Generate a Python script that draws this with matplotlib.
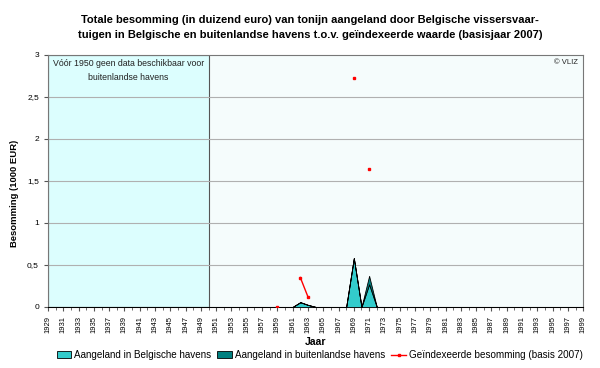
import numpy as np
import matplotlib.pyplot as plt
from matplotlib.ticker import FuncFormatter, MultipleLocator

plt.rcParams['font.family'] = ['Liberation Sans', 'DejaVu Sans']

# data (1000 EUR)
years = list(range(1929, 2000))
belg_years = [1961, 1962, 1963, 1964, 1968, 1969, 1970, 1971, 1972]
belg_vals = [0.0, 0.056, 0.024, 0.0, 0.0, 0.58, 0.0, 0.27, 0.0]
buit_years = [1970, 1971, 1972]
buit_vals = [0.0, 0.10, 0.0]
index_years = [1959, 1962, 1963, 1969, 1971]
index_vals = [0.0, 0.35, 0.12, 2.72, 1.64]

belg = np.zeros(len(years))
buit = np.zeros(len(years))
index = np.full(len(years), np.nan)
for y, v in zip(belg_years, belg_vals):
    belg[years.index(y)] = v
for y, v in zip(buit_years, buit_vals):
    buit[years.index(y)] = v
for y, v in zip(index_years, index_vals):
    index[years.index(y)] = v

fig = plt.figure(figsize=(6, 3.68), dpi=100)
ax = fig.add_axes([0.08, 0.166, 0.892, 0.685])

ax.set_facecolor('#f5fcfc')
ax.axvspan(1929, 1950, facecolor='#dcfefe', edgecolor='#555555', lw=0.8, zorder=1)
for g in [0.5, 1, 1.5, 2, 2.5]:
    ax.axhline(g, color='#b0b0b0', lw=0.8, zorder=1.5)

ax.fill_between(years, 0, belg, facecolor='#33cccc', edgecolor='black', lw=0.6, zorder=3)
ax.fill_between(years, belg, belg + buit, facecolor='#008080', edgecolor='black', lw=0.6, zorder=3)
ax.plot(years, index, color='red', lw=1, marker='s', ms=1.8, zorder=4)

ax.set_xlim(1929, 1999)
ax.set_ylim(0, 3)
ax.set_xticks(range(1929, 2000, 2))
ax.xaxis.set_minor_locator(MultipleLocator(1))
ax.tick_params(axis='x', labelrotation=90, labelsize=5.5, length=3, which='major', color='#555555')
ax.tick_params(axis='x', which='minor', length=2, color='#555555')
ax.set_yticks([0, 0.5, 1, 1.5, 2, 2.5, 3])
ax.yaxis.set_major_formatter(FuncFormatter(lambda v, p: ('%g' % v).replace('.', ',')))
ax.tick_params(axis='y', labelsize=6, length=3, color='#555555')
for s in ax.spines.values():
    s.set_color('#777777')
    s.set_linewidth(0.8)

ax.set_xlabel('Jaar', fontsize=7.5, fontweight='bold', labelpad=3)
ax.set_ylabel('Besomming (1000 EUR)', fontsize=6.8, fontweight='bold')
ax.yaxis.set_label_coords(-0.055, 0.45)

ax.text(1939.5, 2.95, 'Vóór 1950 geen data beschikbaar voor\nbuitenlandse havens',
        ha='center', va='top', fontsize=6.3, color='#222222', linespacing=1.7, zorder=5)
ax.text(1998.3, 2.95, '© VLIZ', ha='right', va='top', fontsize=5.5, color='#222222', zorder=5)

fig.text(0.517, 0.925, 'Totale besomming (in duizend euro) van tonijn aangeland door Belgische vissersvaar-\n'
         'tuigen in Belgische en buitenlandse havens t.o.v. geïndexeerde waarde (basisjaar 2007)',
         ha='center', va='center', fontsize=8, fontweight='bold', linespacing=1.6)

h1 = plt.Rectangle((0, 0), 1, 1, facecolor='#33cccc', edgecolor='black', lw=0.6)
h2 = plt.Rectangle((0, 0), 1, 1, facecolor='#008080', edgecolor='black', lw=0.6)
h3, = ax.plot([], [], color='red', lw=1, marker='s', ms=1.8)
fig.legend([h1, h2, h3],
           ['Aangeland in Belgische havens', 'Aangeland in buitenlandse havens',
            'Geïndexeerde besomming (basis 2007)'],
           loc='center', bbox_to_anchor=(0.533, 0.035), ncol=3, frameon=False,
           fontsize=7.1, handlelength=1.5, handleheight=0.8, columnspacing=0.6, handletextpad=0.3)

fig.savefig('out.png', dpi=100)
